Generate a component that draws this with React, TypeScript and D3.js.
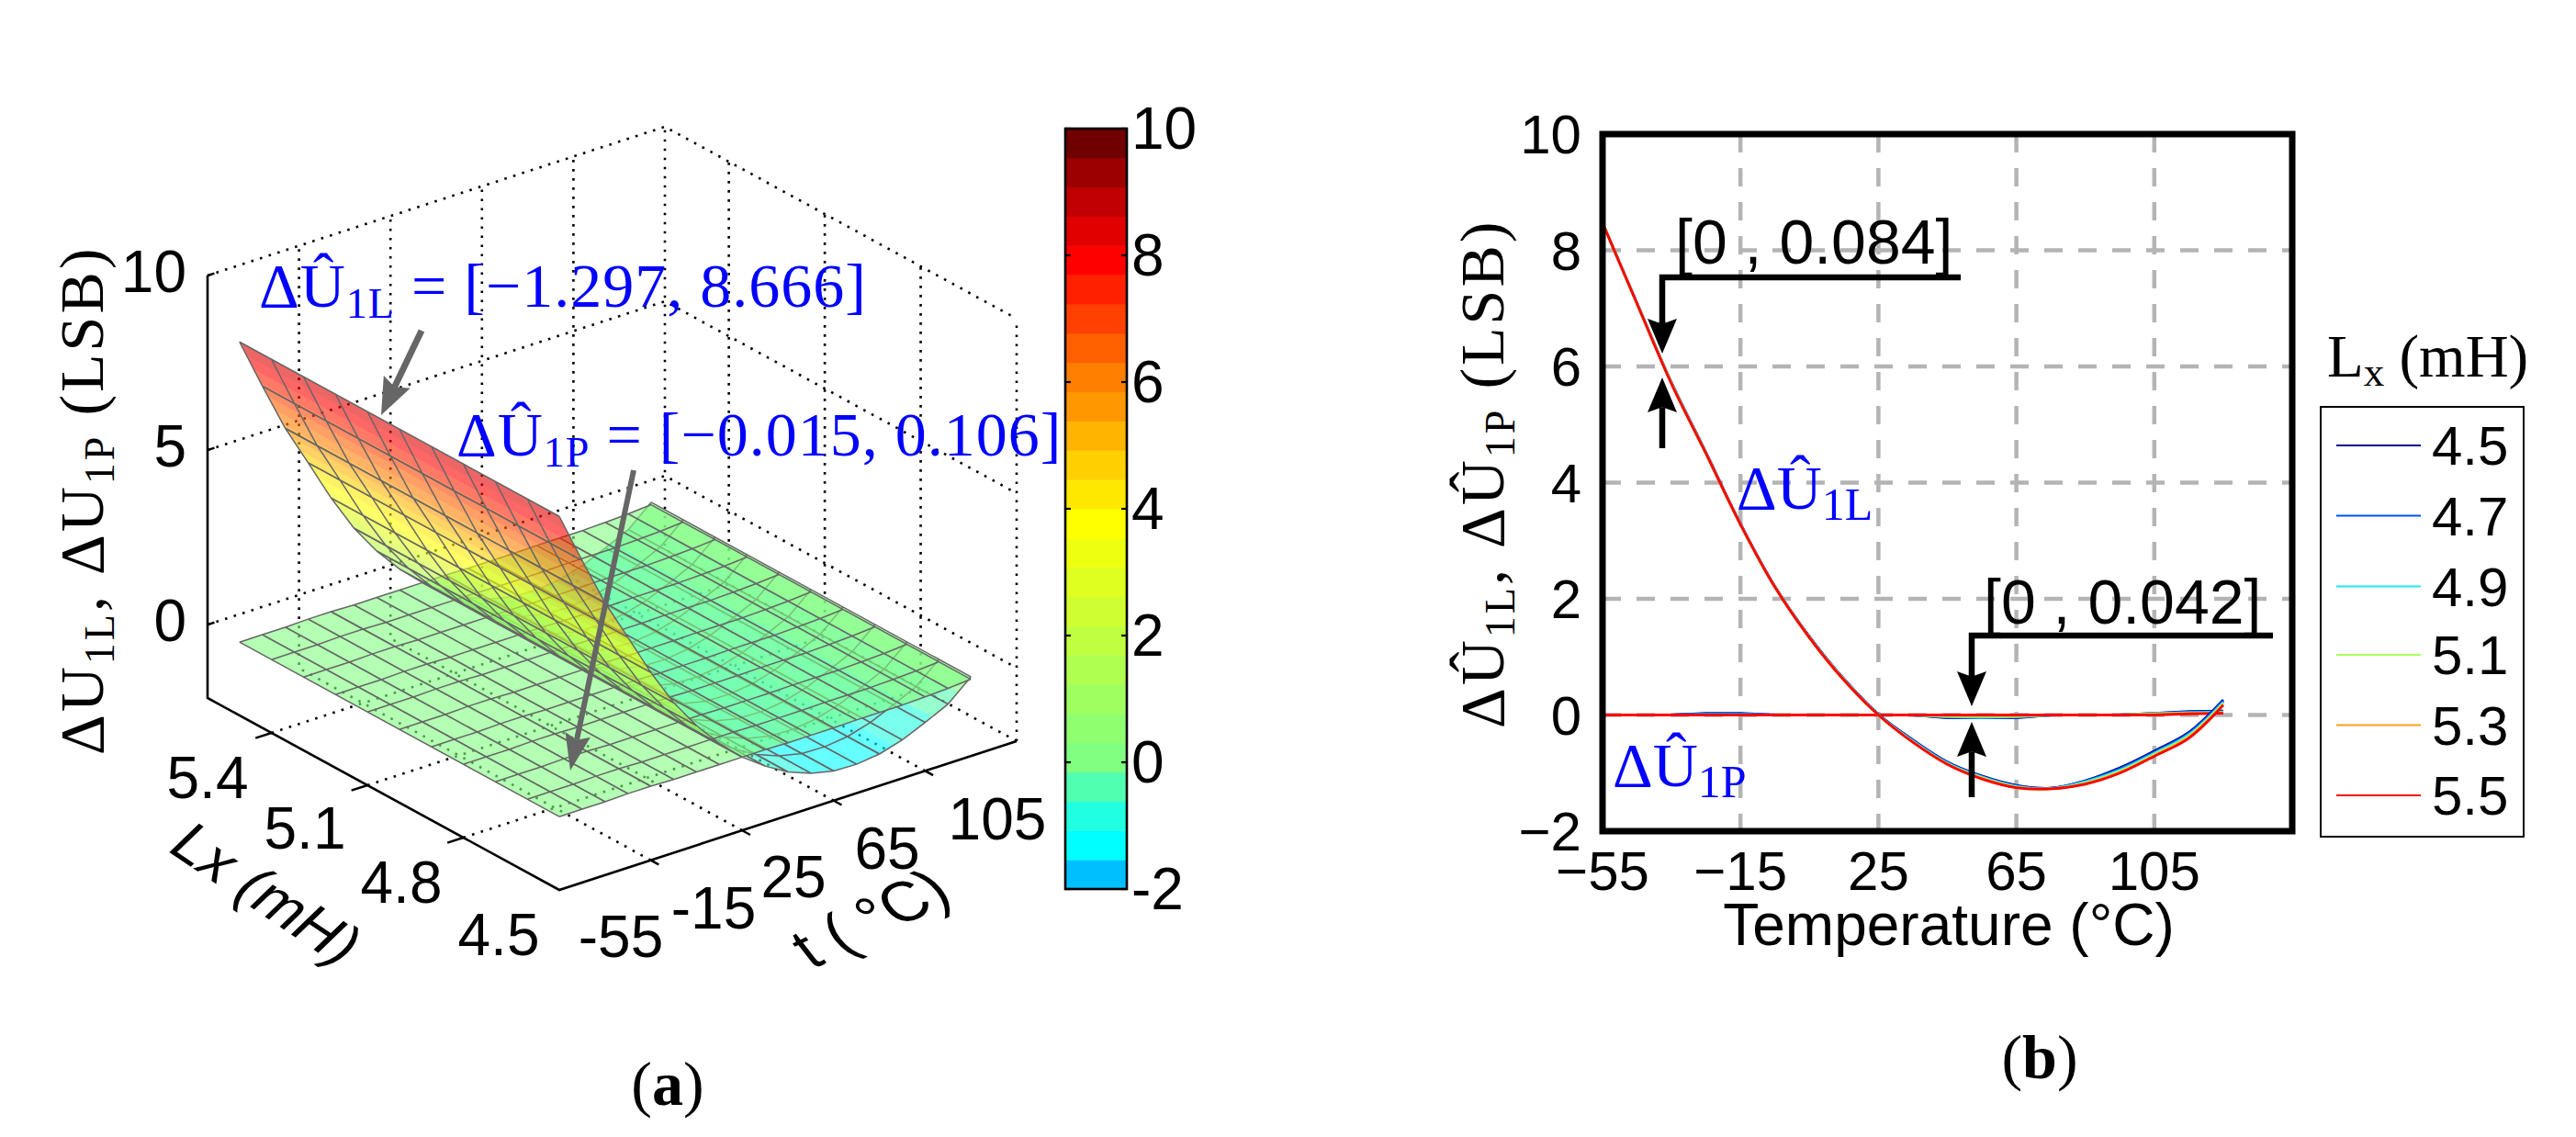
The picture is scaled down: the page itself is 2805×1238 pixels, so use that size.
import React from "react";
import * as d3 from "d3";

// ---------- data ----------
const temps = [-55, -45, -35, -25, -15, -5, 5, 15, 25, 35, 45, 55, 65, 75, 85, 95, 105, 115, 125];
const inductances = [4.5, 4.6, 4.7, 4.8, 4.9, 5.0, 5.1, 5.2, 5.3, 5.4, 5.5];

const surfaceU1L = [8.6, 7.12, 5.7, 4.5, 3.28, 2.2, 1.33, 0.6, 0, -0.47, -0.85, -1.1, -1.25, -1.27, -1.19, -1.0, -0.71, -0.4, 0.17];
const surfaceU1P = [0, 0, 0, 0.02, 0.02, 0, 0, 0, 0, 0, -0.015, -0.015, -0.015, 0, 0, 0, 0.02, 0.05, 0.1];

const lineLabels = ["4.5", "4.7", "4.9", "5.1", "5.3", "5.5"];
const lineColors = ["#00008f", "#0050ff", "#20e8e8", "#a8ff60", "#ff9f20", "#ff0000"];

const u1L_45 = [8.47, 7.09, 5.72, 4.52, 3.29, 2.21, 1.35, 0.62, 0.01, -0.43, -0.81, -1.05, -1.21, -1.26, -1.13, -0.91, -0.62, -0.3, 0.26];
const u1L_47 = [8.47, 7.09, 5.72, 4.51, 3.29, 2.21, 1.34, 0.62, 0.01, -0.44, -0.82, -1.06, -1.22, -1.26, -1.14, -0.93, -0.64, -0.32, 0.24];
const u1L_49 = [8.47, 7.09, 5.71, 4.51, 3.28, 2.2, 1.34, 0.61, 0, -0.45, -0.83, -1.07, -1.23, -1.27, -1.15, -0.95, -0.66, -0.34, 0.22];
const u1L_51 = [8.47, 7.08, 5.71, 4.5, 3.28, 2.2, 1.33, 0.61, 0, -0.46, -0.84, -1.08, -1.24, -1.27, -1.17, -0.97, -0.68, -0.36, 0.2];
const u1L_53 = [8.47, 7.08, 5.7, 4.5, 3.28, 2.2, 1.33, 0.6, 0, -0.47, -0.85, -1.09, -1.25, -1.27, -1.18, -0.99, -0.7, -0.38, 0.18];
const u1L_55 = [8.47, 7.08, 5.7, 4.5, 3.28, 2.2, 1.33, 0.6, 0, -0.47, -0.85, -1.1, -1.25, -1.27, -1.19, -1.0, -0.71, -0.4, 0.17];

const u1P_45 = [0, 0, 0, 0.03, 0.03, 0, 0, 0, 0, 0, -0.05, -0.05, -0.05, 0, 0, 0, 0.03, 0.06, 0.07];
const u1P_47 = [0, 0, 0, 0.02, 0.02, 0, 0, 0, 0, 0, -0.04, -0.05, -0.04, 0, 0, 0, 0.03, 0.05, 0.06];
const u1P_49 = [0, 0, 0, 0.01, 0.01, 0, 0, 0, 0, 0, -0.03, -0.04, -0.03, 0, 0, 0, 0.02, 0.04, 0.05];
const u1P_51 = [0, 0, 0, 0, 0, 0, 0, 0, 0, 0, -0.02, -0.02, -0.02, 0, 0, 0, 0.02, 0.03, 0.04];
const u1P_53 = [0, 0, 0, 0, 0, 0, 0, 0, 0, 0, -0.01, -0.01, -0.01, 0, 0, 0, 0.01, 0.03, 0.03];
const u1P_55 = [0, 0, 0, 0, 0, 0, 0, 0, 0, 0, 0, 0, 0, 0, 0, 0, 0, 0.02, 0.03];

const u1LSeries = [u1L_45, u1L_47, u1L_49, u1L_51, u1L_53, u1L_55];
const u1PSeries = [u1P_45, u1P_47, u1P_49, u1P_51, u1P_53, u1P_55];

// colour bar bands, bottom to top
const bandColors = [
  "#00bfff", "#00ffff", "#20ffdf", "#50ffaf", "#80ff80", "#8fff70", "#9fff60", "#afff50", "#bfff40",
  "#cfff30", "#dfff20", "#efff10", "#ffff00", "#ffe800", "#ffd000", "#ffb400", "#ff9800", "#ff7f00",
  "#ff6000", "#ff4000", "#ff2000", "#ff0000", "#e00000", "#c00000", "#9c0000", "#700000",
];

const zTicks3D = [0, 5, 10];
const tTicks3D = [-55, -15, 25, 65, 105];
const lTicks3D = [4.5, 4.8, 5.1, 5.4];
const barTicks = [-2, 0, 2, 4, 6, 8, 10];
const xTicks2D = [-55, -15, 25, 65, 105];
const yTicks2D = [-2, 0, 2, 4, 6, 8, 10];
const gridX2D = [-15, 25, 65, 105];
const gridY2D = [0, 2, 4, 6, 8];

// ---------- 3-D projection ----------
const T_MIN = -55, T_MAX = 145, L_MIN = 4.5, L_MAX = 5.6, Z_MIN = -2.1, Z_MAX = 10;
const tX = d3.scaleLinear().domain([T_MIN, T_MAX]).range([0, 498]);
const tY = d3.scaleLinear().domain([T_MIN, T_MAX]).range([0, -162]);
const lX = d3.scaleLinear().domain([L_MIN, L_MAX]).range([0, -383]);
const lY = d3.scaleLinear().domain([L_MIN, L_MAX]).range([0, -209]);
const zY = d3.scaleLinear().domain([Z_MIN, Z_MAX]).range([0, -460]);
const ORIGIN = [609, 969];
type Pt = [number, number];
const P = (t: number, L: number, z: number): Pt => [
  ORIGIN[0] + tX(t) + lX(L),
  ORIGIN[1] + tY(t) + lY(L) + zY(z),
];
const pathOf = d3.line<Pt>();
const bandScale = d3.scaleQuantize<string>().domain([-2, 10]).range(bandColors);
const bandEdges = d3.range(1, bandColors.length).map((i) => -2 + (i * 12) / bandColors.length);

const SANS = "'Liberation Sans', Arial, sans-serif";
const SERIF = "'Liberation Serif', 'DejaVu Serif', serif";
const BLUE = "#0000ff";
const GRAY = "#666666";

type Strip = { id: string; i: number; vals: number[] };

function stripGradient(id: string, t0: number, t1: number, z0: number, z1: number) {
  const A = P(t0, L_MIN, z0), B = P(t0, 5.5, z0), D = P(t1, L_MIN, z1);
  const dx = B[0] - A[0], dy = B[1] - A[1], len = Math.hypot(dx, dy);
  const nx = -dy / len, ny = dx / len;
  const k = (D[0] - A[0]) * nx + (D[1] - A[1]) * ny;
  if (Math.abs(k) < 1 || z0 === z1) return null;
  const edges = bandEdges.filter((e) => (e - z0) * (e - z1) < 0);
  edges.sort((a, b) => (z1 > z0 ? a - b : b - a));
  const stops: { f: number; c: string }[] = [{ f: 0, c: bandScale(z0) }];
  edges.forEach((e) => {
    const f = (e - z0) / (z1 - z0);
    stops.push({ f, c: stops[stops.length - 1].c });
    stops.push({ f, c: bandScale(e + (z1 > z0 ? 0.001 : -0.001)) });
  });
  stops.push({ f: 1, c: bandScale(z1) });
  return (
    <linearGradient key={id} id={id} gradientUnits="userSpaceOnUse" x1={A[0]} y1={A[1]} x2={A[0] + nx * k} y2={A[1] + ny * k}>
      {stops.map((s, j) => (
        <stop key={j} offset={s.f} stopColor={s.c} />
      ))}
    </linearGradient>
  );
}

function StripMark({ s }: { s: Strip }) {
  const { i, vals, id } = s;
  const t0 = temps[i], t1 = temps[i + 1], z0 = vals[i], z1 = vals[i + 1];
  const Lmax = inductances[inductances.length - 1];
  const poly: Pt[] = [P(t0, L_MIN, z0), P(t0, Lmax, z0), P(t1, Lmax, z1), P(t1, L_MIN, z1)];
  const grad = stripGradient(id, t0, t1, z0, z1);
  const mesh = inductances.map((L) => pathOf([P(t0, L, z0), P(t1, L, z1)])).join("");
  const cross = pathOf([P(t0, L_MIN, z0), P(t0, Lmax, z0)]) + pathOf([P(t1, L_MIN, z1), P(t1, Lmax, z1)]);
  return (
    <g>
      {grad && <defs>{grad}</defs>}
      <path d={pathOf(poly) + "Z"} fill={grad ? `url(#${id})` : bandScale((z0 + z1) / 2)} fillOpacity={0.6} stroke="none" />
      <path d={mesh + cross} fill="none" stroke={GRAY} strokeWidth={1.5} />
    </g>
  );
}

function Arrow({ x1, y1, x2, y2, w, len, sw, color }: any) {
  const a = Math.atan2(y2 - y1, x2 - x1);
  const ux = Math.cos(a), uy = Math.sin(a), nx = -uy, ny = ux;
  const bx = x2 - ux * len, by = y2 - uy * len;
  const nX = x2 - ux * len * 0.85, nY = y2 - uy * len * 0.85;
  const head: Pt[] = [[x2, y2], [bx + (nx * w) / 2, by + (ny * w) / 2], [nX, nY], [bx - (nx * w) / 2, by - (ny * w) / 2]];
  return (
    <g>
      <line x1={x1} y1={y1} x2={nX} y2={nY} stroke={color} strokeWidth={sw} />
      <path d={pathOf(head) + "Z"} fill={color} />
    </g>
  );
}

function BlueEq({ x, y, sub, range }: any) {
  return (
    <text x={x} y={y} fontFamily={SERIF} fontSize={68} letterSpacing={1} fill={BLUE} xmlSpace="preserve">
      ΔÛ
      <tspan fontSize={46} dy={12}>{sub}</tspan>
      <tspan dy={-12}> = {range}</tspan>
    </text>
  );
}

function AxisLabel({ hat, transform, size, spacing }: any) {
  const sym = hat ? "ΔÛ" : "ΔU";
  const sub = Math.round(size * 0.68);
  return (
    <text transform={transform} fontFamily={SERIF} fontSize={size} letterSpacing={spacing} fill="#000" xmlSpace="preserve">
      {sym}
      <tspan fontSize={sub} dy={12}>1L</tspan>
      <tspan dy={-12}>, {sym}</tspan>
      <tspan fontSize={sub} dy={12}>1P</tspan>
      <tspan dy={-12}> (LSB)</tspan>
    </text>
  );
}

// ---------- panel (a) ----------
function Panel3D() {
  const dotted = { stroke: "#000", strokeWidth: 2.6, strokeDasharray: "2.6 7.4", fill: "none" } as const;
  const wallLines: string[] = [];
  zTicks3D.forEach((z) => {
    wallLines.push(pathOf([P(T_MIN, L_MAX, z), P(T_MAX, L_MAX, z), P(T_MAX, L_MIN, z)])!);
  });
  tTicks3D.slice(1).concat([T_MAX]).forEach((t) => {
    wallLines.push(pathOf([P(t, L_MIN, Z_MIN), P(t, L_MAX, Z_MIN), P(t, L_MAX, Z_MAX)])!);
  });
  lTicks3D.slice(1).forEach((L) => {
    wallLines.push(pathOf([P(T_MIN, L, Z_MIN), P(T_MAX, L, Z_MIN), P(T_MAX, L, Z_MAX)])!);
  });
  wallLines.push(pathOf([P(T_MAX, L_MIN, Z_MIN), P(T_MAX, L_MIN, Z_MAX)])!);

  const idx = d3.range(temps.length - 1);
  const isBelow = (i: number) => temps[i] >= 25;
  const farFirst = [...idx].reverse();
  const pieces: Strip[] = [
    ...farFirst.filter(isBelow).map((i) => ({ id: `la${i}`, i, vals: surfaceU1L })),
    ...farFirst.map((i) => ({ id: `p${i}`, i, vals: surfaceU1P })),
    ...farFirst.filter((i) => !isBelow(i)).map((i) => ({ id: `lb${i}`, i, vals: surfaceU1L })),
  ];

  const barY = d3.scaleLinear().domain([-2, 10]).range([968, 140]);
  const barX0 = 1160, barX1 = 1227;

  const tPos: Pt[] = [[676, 1020], [777, 989], [864, 955], [966, 924], [1086, 892]];
  const lPos: Pt[] = [[543, 1018], [437, 961], [332, 902], [226, 847]];

  return (
    <g>
      <path d={wallLines.join("")} {...dotted} />
      {/* solid axes */}
      <path
        d={pathOf([P(T_MIN, L_MAX, Z_MAX), P(T_MIN, L_MAX, Z_MIN), P(T_MIN, L_MIN, Z_MIN), P(T_MAX, L_MIN, Z_MIN)])!}
        fill="none" stroke="#000" strokeWidth={2.6}
      />
      {zTicks3D.map((z) => (
        <path key={z} d={pathOf([P(T_MIN, L_MAX, z), P(T_MIN + 3, L_MAX, z)])!} stroke="#000" strokeWidth={2.4} />
      ))}
      {lTicks3D.slice(1).map((L) => (
        <path key={L} d={pathOf([P(T_MIN, L, Z_MIN), P(T_MIN - 7, L, Z_MIN)])!} stroke="#000" strokeWidth={2.4} />
      ))}
      {tTicks3D.slice(1).map((t) => (
        <path key={t} d={pathOf([P(t, L_MIN, Z_MIN), P(t, L_MIN - 0.025, Z_MIN)])!} stroke="#000" strokeWidth={2.4} />
      ))}

      {pieces.map((s) => (
        <StripMark key={s.id} s={s} />
      ))}

      {/* tick labels */}
      <g fontFamily={SANS} fontSize={64} fill="#000">
        {zTicks3D.map((z) => (
          <text key={z} x={203} y={P(T_MIN, L_MAX, z)[1] + 18} textAnchor="end">{z}</text>
        ))}
        {tTicks3D.map((t, i) => (
          <text key={t} x={tPos[i][0]} y={tPos[i][1] + 22} textAnchor="middle">{t}</text>
        ))}
        {lTicks3D.map((L, i) => (
          <text key={L} x={lPos[i][0]} y={lPos[i][1] + 22} textAnchor="middle">{L.toFixed(1)}</text>
        ))}
        <text transform="translate(180,925) rotate(34) skewX(-12)" fontSize={64}>Lx (mH)</text>
        <text transform="translate(884,1056) rotate(-26) skewX(12)" fontSize={66} xmlSpace="preserve">t ( °C)</text>
      </g>

      <AxisLabel transform="translate(112,822) rotate(-90)" size={68} spacing={3} />

      {/* colour bar */}
      {bandColors.map((c, i) => {
        const lo = -2 + (i * 12) / bandColors.length, hi = -2 + ((i + 1) * 12) / bandColors.length;
        return <rect key={i} x={barX0} width={barX1 - barX0} y={barY(hi)} height={barY(lo) - barY(hi) + 0.5} fill={c} />;
      })}
      <rect x={barX0} y={140} width={barX1 - barX0} height={828} fill="none" stroke="#000" strokeWidth={2.6} />
      {barTicks.map((v) => (
        <g key={v}>
          <line x1={barX0} x2={barX0 + 6} y1={barY(v)} y2={barY(v)} stroke="#000" strokeWidth={2.2} />
          <line x1={barX1 - 6} x2={barX1} y1={barY(v)} y2={barY(v)} stroke="#000" strokeWidth={2.2} />
          <text x={1232} y={barY(v) + 22} fontFamily={SANS} fontSize={64} fill="#000">{v}</text>
        </g>
      ))}

      {/* annotation arrows */}
      <Arrow x1={459} y1={360} x2={415} y2={452} w={32} len={40} sw={7} color={GRAY} />
      <Arrow x1={690} y1={512} x2={621} y2={839} w={28} len={40} sw={6} color={GRAY} />

      <BlueEq x={282} y={334} sub="1L" range="[−1.297, 8.666]" />
      <BlueEq x={497} y={496} sub="1P" range="[−0.015, 0.106]" />
      <text x={727} y={1203} textAnchor="middle" fontFamily={SERIF} fontSize={68} fill="#000">
        (<tspan fontWeight="bold">a</tspan>)
      </text>
    </g>
  );
}

// ---------- panel (b) ----------
function Panel2D() {
  const x = d3.scaleLinear().domain([-55, 145]).range([1745, 2496]);
  const y = d3.scaleLinear().domain([-2, 10]).range([905, 146]);
  const ln = d3.line<number>().x((_, i) => x(temps[i])).y((d) => y(d));
  const smooth = d3.line<number>().x((_, i) => x(temps[i])).y((d) => y(d)).curve(d3.curveCatmullRom);
  const legendY = [485, 561.5, 638.5, 713, 789.5, 866];
  return (
    <g>
      {gridX2D.map((t) => (
        <line key={t} x1={x(t)} x2={x(t)} y1={y(10)} y2={y(-2)} stroke="#b4b4b4" strokeWidth={4.5} strokeDasharray="20 17" />
      ))}
      {gridY2D.map((v) => (
        <line key={v} x1={x(-55)} x2={x(145)} y1={y(v)} y2={y(v)} stroke="#b4b4b4" strokeWidth={4.5} strokeDasharray="20 17" />
      ))}
      {u1PSeries.map((s, i) => (
        <path key={i} d={ln(s)!} fill="none" stroke={lineColors[i]} strokeWidth={2.8} />
      ))}
      {u1LSeries.map((s, i) => (
        <path key={i} d={smooth(s)!} fill="none" stroke={lineColors[i]} strokeWidth={2.8} />
      ))}
      <rect x={x(-55)} y={y(10)} width={x(145) - x(-55)} height={y(-2) - y(10)} fill="none" stroke="#000" strokeWidth={7} />

      <g fontFamily={SANS} fontSize={60} fill="#000">
        {yTicks2D.map((v) => (
          <text key={v} x={1722} y={y(v) + 21} textAnchor="end">{v < 0 ? `−${-v}` : v}</text>
        ))}
        {xTicks2D.map((t) => (
          <text key={t} x={x(t)} y={969} textAnchor="middle">{t < 0 ? `−${-t}` : t}</text>
        ))}
        <text x={2122} y={1029} textAnchor="middle" fontSize={64}>Temperature (°C)</text>
        <text x={1824} y={287} fontSize={68} xmlSpace="preserve">[0 , 0.084]</text>
        <text x={2160} y={679} fontSize={68} xmlSpace="preserve">[0 , 0.042]</text>
      </g>

      <AxisLabel hat transform="translate(1637,793) rotate(-90)" size={68} spacing={3} />

      <text x={1891} y={554} fontFamily={SERIF} fontSize={68} fill={BLUE}>
        ΔÛ<tspan fontSize={50} dy={12}>1L</tspan>
      </text>
      <text x={1756} y={856} fontFamily={SERIF} fontSize={68} fill={BLUE}>
        ΔÛ<tspan fontSize={50} dy={12}>1P</tspan>
      </text>

      {/* bracket annotations */}
      <path d="M2135,302 H1810 V360" fill="none" stroke="#000" strokeWidth={6.5} />
      <Arrow x1={1810} y1={350} x2={1810} y2={385} w={32} len={38} sw={6.5} color="#000" />
      <Arrow x1={1810} y1={488} x2={1810} y2={411} w={32} len={38} sw={6.5} color="#000" />
      <path d="M2475,692 H2147 V745" fill="none" stroke="#000" strokeWidth={6.5} />
      <Arrow x1={2147} y1={735} x2={2147} y2={769} w={32} len={38} sw={6.5} color="#000" />
      <Arrow x1={2147} y1={868} x2={2147} y2={786} w={32} len={38} sw={6.5} color="#000" />

      {/* legend */}
      <text x={2534} y={410} fontFamily={SERIF} fontSize={65} fill="#000" xmlSpace="preserve">
        L<tspan fontSize={45} dy={10}>x</tspan>
        <tspan dy={-10}> (mH)</tspan>
      </text>
      <rect x={2527} y={443} width={221} height={468} fill="#fff" stroke="#000" strokeWidth={2} />
      {lineLabels.map((l, i) => (
        <g key={l}>
          <line x1={2544} x2={2636} y1={legendY[i]} y2={legendY[i]} stroke={lineColors[i]} strokeWidth={2} />
          <text x={2648} y={legendY[i] + 21} fontFamily={SANS} fontSize={60} fill="#000">{l}</text>
        </g>
      ))}

      <text x={2221} y={1174} textAnchor="middle" fontFamily={SERIF} fontSize={68} fill="#000">
        (<tspan fontWeight="bold">b</tspan>)
      </text>
    </g>
  );
}

export default function App() {
  return (
    <svg
      width={2805}
      height={1238}
      viewBox="0 0 2805 1238"
      style={{ position: "absolute", left: 0, top: 0, display: "block", background: "#fff" }}
    >
      <Panel3D />
      <Panel2D />
    </svg>
  );
}
